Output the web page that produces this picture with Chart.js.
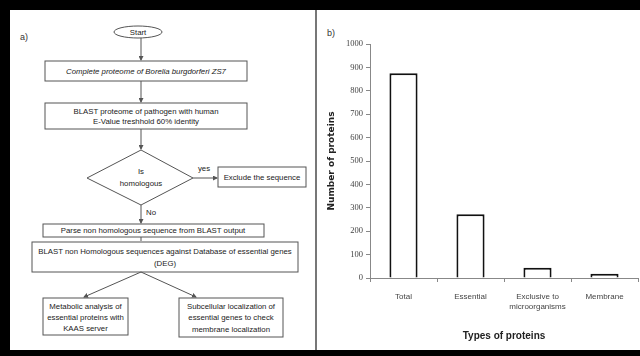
<!DOCTYPE html>
<html>
<head>
<meta charset="utf-8">
<script src="https://cdn.jsdelivr.net/npm/chart.js@4.4.1/dist/chart.umd.min.js"></script>
<style>
  html, body { margin: 0; padding: 0; background: #000; }
  #page { position: relative; width: 640px; height: 356px; background: #000; overflow: hidden; }
  #left { position: absolute; left: 10px; top: 10px; width: 305px; height: 340px; background: #fff; }
  #divider { position: absolute; left: 315px; top: 10px; width: 2px; height: 340px; background: #777; }
  #right { position: absolute; left: 317px; top: 10px; width: 323px; height: 340px; background: #fff; }
  #chartBox { position: absolute; left: 1px; top: 0; width: 322px; height: 340px; }
  .lbl { position: absolute; font-family: "Liberation Sans", sans-serif; font-size: 9px; color: #333; }
  #flow { position: absolute; left: 0; top: 0; }
  #flow text { font-family: "Liberation Sans Narrow", "Liberation Sans", sans-serif; font-size: 7.8px; fill: #222; }
</style>
</head>
<body>
<div id="page">
  <div id="left">
    <div class="lbl" style="left:10px; top:22px;">a)</div>
    <svg id="flow" width="305" height="340" viewBox="10 10 305 340">
      <defs>
        <marker id="ah" markerWidth="5" markerHeight="5" refX="4" refY="2.5" orient="auto">
          <path d="M0,0 L5,2.5 L0,5 z" fill="#555"/>
        </marker>
      </defs>
      <g stroke="#555" stroke-width="1" fill="none">
        <ellipse cx="138" cy="32" rx="24" ry="6"/>
        <line x1="141" y1="38" x2="141" y2="60" marker-end="url(#ah)"/>
        <rect x="45" y="61" width="202" height="20"/>
        <line x1="141" y1="81" x2="141" y2="102" marker-end="url(#ah)"/>
        <rect x="45" y="103" width="202" height="26"/>
        <line x1="141" y1="129" x2="141" y2="149" marker-end="url(#ah)"/>
        <polygon points="141,150 193,178 141,205 87,178"/>
        <line x1="193" y1="178" x2="217" y2="178" marker-end="url(#ah)"/>
        <rect x="218" y="167" width="88" height="20"/>
        <line x1="141" y1="205" x2="141" y2="223" marker-end="url(#ah)"/>
        <rect x="43" y="224" width="221" height="13"/>
        <line x1="141" y1="237" x2="141" y2="241"/>
        <rect x="32" y="242" width="266" height="30"/>
        <line x1="141" y1="272" x2="84" y2="297" marker-end="url(#ah)"/>
        <line x1="141" y1="272" x2="196" y2="297" marker-end="url(#ah)"/>
        <rect x="43" y="298" width="85" height="37"/>
        <rect x="179" y="298" width="104" height="39"/>
      </g>
      <g text-anchor="middle">
        <text x="138" y="34.5" font-size="6.5">Start</text>
        <text x="146" y="74" font-style="italic">Complete proteome of Borelia burgdorferi ZS7</text>
        <text x="146" y="114">BLAST proteome of pathogen with human</text>
        <text x="146" y="124">E-Value treshhold 60% identity</text>
        <text x="141" y="174">Is</text>
        <text x="141" y="186">homologous</text>
        <text x="204" y="171" font-size="7">yes</text>
        <text x="262" y="180">Exclude the sequence</text>
        <text x="151" y="215" font-size="7">No</text>
        <text x="153" y="233">Parse non homologous sequence from BLAST output</text>
        <text x="165" y="254">BLAST non Homologous sequences against Database of essential genes</text>
        <text x="165" y="266">(DEG)</text>
        <text x="85.5" y="309">Metabolic analysis of</text>
        <text x="85.5" y="320">essential proteins with</text>
        <text x="85.5" y="331">KAAS server</text>
        <text x="231" y="309">Subcellular localization of</text>
        <text x="231" y="320">essential genes to check</text>
        <text x="231" y="332">membrane localization</text>
      </g>
    </svg>
  </div>
  <div id="divider"></div>
  <div id="right">
    <div class="lbl" style="left:10px; top:18px;">b)</div>
    <div id="chartBox"><canvas id="protChart"></canvas></div>
  </div>
</div>
<script>
const categories = ["Total", "Essential", ["Exclusive to", "microorganisms"], "Membrane"];
const proteinCounts = [875, 272, 44, 18];
const yTickMax = 1000;
const yTickStep = 100;

const ctx = document.getElementById("protChart").getContext("2d");

const data = {
    labels: categories,
    datasets: [
        {
            data: proteinCounts,
            backgroundColor: "#ffffff",
            borderColor: "#111111",
            borderWidth: 2,
            borderSkipped: "bottom",
            barPercentage: 0.42,
            categoryPercentage: 1.0
        }
    ]
};

const config = {
    type: "bar",
    data: data,
    options: {
        responsive: true,
        maintainAspectRatio: false,
        animation: false,
        layout: {
            padding: { top: 34, right: 2, left: 8, bottom: 8 }
        },
        plugins: {
            legend: { display: false },
            tooltip: { enabled: false }
        },
        scales: {
            x: {
                grid: {
                    drawOnChartArea: false,
                    offset: true,
                    tickLength: 4,
                    color: "#888"
                },
                border: { color: "#888", width: 1 },
                ticks: {
                    color: "#444",
                    font: { family: "Liberation Sans", size: 8 },
                    padding: 10,
                    maxRotation: 0
                },
                title: {
                    display: true,
                    text: "Types of proteins",
                    color: "#222",
                    font: { family: "Liberation Sans", size: 10, weight: "bold" },
                    padding: { top: 8, bottom: 0 }
                },
                afterFit: (scale) => { scale.height = 64; }
            },
            y: {
                min: 0,
                max: yTickMax,
                grid: {
                    drawOnChartArea: false,
                    tickLength: 4,
                    color: "#888"
                },
                border: { color: "#888", width: 1 },
                ticks: {
                    stepSize: yTickStep,
                    color: "#444",
                    font: { family: "Liberation Serif", size: 8.5 },
                    padding: 3,
                    callback: function (value) {
                        return value;
                    }
                },
                title: {
                    display: true,
                    text: "Number of proteins",
                    color: "#222",
                    font: { family: "DejaVu Sans", size: 9, weight: "bold" },
                    padding: { top: 0, bottom: 4 }
                },
                afterFit: (scale) => { scale.width = 44; }
            }
        }
    }
};

let myChart = new Chart(ctx, config);
</script>
</body>
</html>
